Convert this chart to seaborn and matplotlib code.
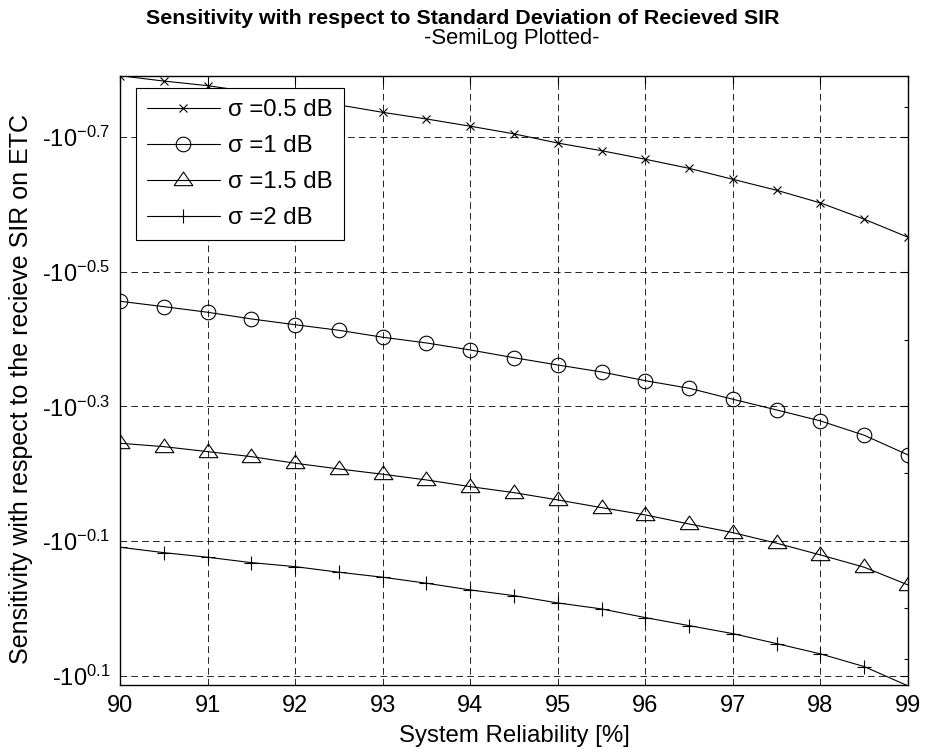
import numpy as np
import pandas as pd
import matplotlib
matplotlib.use("Agg")
import matplotlib.pyplot as plt
import seaborn as sns

# system reliability [%]
reliability = [90, 90.5, 91, 91.5, 92, 92.5, 93, 93.5, 94, 94.5,
               95, 95.5, 96, 96.5, 97, 97.5, 98, 98.5, 99]

# sensitivity (negative values)
sens_05 = [-0.1618, -0.1648, -0.1674, -0.1711, -0.1746, -0.1788, -0.1834, -0.1876, -0.1923, -0.1974,
           -0.2037, -0.2091, -0.2153, -0.2221, -0.2306, -0.2394, -0.2500, -0.2643, -0.2811]
sens_10 = [-0.3499, -0.3564, -0.3633, -0.3717, -0.3791, -0.3864, -0.3957, -0.4035, -0.4133, -0.4244,
           -0.4351, -0.4456, -0.4591, -0.4711, -0.4892, -0.5074, -0.5268, -0.5533, -0.5918]
sens_15 = [-0.5686, -0.5752, -0.5851, -0.5952, -0.6088, -0.6208, -0.6321, -0.6446, -0.6595, -0.6732,
           -0.6902, -0.7086, -0.7265, -0.7493, -0.7719, -0.8003, -0.8330, -0.8688, -0.9230]
sens_20 = [-0.8114, -0.8265, -0.8396, -0.8552, -0.8670, -0.8837, -0.8990, -0.9176, -0.9389, -0.9574,
           -0.9816, -1.0019, -1.0321, -1.0608, -1.0902, -1.1281, -1.1684, -1.2203, -1.3035]

labels = ["σ =0.5 dB", "σ =1 dB", "σ =1.5 dB", "σ =2 dB"]
ytick_exp = [-0.7, -0.5, -0.3, -0.1, 0.1]
ytick_labels = ["-10$^{\\mathrm{-0.7}}$", "-10$^{\\mathrm{-0.5}}$", "-10$^{\\mathrm{-0.3}}$",
                "-10$^{\\mathrm{-0.1}}$", "-10$^{\\mathrm{0.1}}$"]
yminor = [-0.18, -0.4, -0.63, -1.0, -1.19]


def setup_style():
    sns.set_theme(style="white")
    plt.rcParams.update({
        'font.family': ['Liberation Sans', 'DejaVu Sans'],
        'mathtext.fontset': 'custom',
        'mathtext.rm': 'Liberation Sans',
        'mathtext.it': 'Liberation Sans:italic',
        'mathtext.bf': 'Liberation Sans:bold',
        'axes.unicode_minus': False,
        'axes.edgecolor': 'black',
        'axes.linewidth': 1.0,
        'xtick.color': 'black',
        'ytick.color': 'black',
        'text.color': 'black',
        'axes.labelcolor': 'black',
    })


def fwd(y):
    y = np.asarray(y, dtype=float)
    with np.errstate(all='ignore'):
        return -np.log10(np.clip(-y, 1e-9, None))


def inv(z):
    z = np.asarray(z, dtype=float)
    return -np.power(10.0, -z)


def main():
    setup_style()
    fig = plt.figure(figsize=(9.26, 7.54), dpi=100)
    ax = fig.add_axes([0.1296, 0.0915, 0.8510, 0.8081])
    ax.set_yscale('function', functions=(fwd, inv))

    tri = [(-1, -0.55), (1, -0.55), (0, 0.9), (-1, -0.55)]
    series = [
        (sens_05, 'x', 5.5),
        (sens_10, 'o', 10.5),
        (sens_15, tri, 13.5),
        (sens_20, '+', 9.5),
    ]
    for (vals, mk, ms), lab in zip(series, labels):
        df = pd.DataFrame({'rel': reliability, 'val': vals})
        sns.lineplot(data=df, x='rel', y='val', ax=ax, color='black', linewidth=0.8,
                     marker=mk, markersize=ms, markerfacecolor='none',
                     markeredgecolor='black', markeredgewidth=0.8, label=lab)

    ax.set_xlim(90, 99)
    ax.set_ylim(-1.2996, -0.1618)
    ax.set_xticks(range(90, 100))
    ax.set_yticks([-10 ** e for e in ytick_exp])
    ax.set_yticklabels(ytick_labels)
    ax.set_yticks(yminor, minor=True)
    ax.yaxis.set_minor_formatter(matplotlib.ticker.NullFormatter())

    ax.grid(True, which='major', color='black', linewidth=0.6, linestyle=(0, (8, 5)))
    ax.tick_params(which='both', direction='in', top=True, right=True, labelsize=17, width=0.8)
    ax.tick_params(which='major', length=6, pad=7)
    ax.tick_params(which='minor', length=3)

    ax.set_xlabel('System Reliability [%]', fontsize=17.3, labelpad=6)
    ax.set_ylabel('Sensitivity with respect to the recieve SIR on ETC', fontsize=18, labelpad=6)
    ax.yaxis.set_label_coords(-0.11, 0.485)

    fig.text(0.5, 0.976, 'Sensitivity with respect to Standard Deviation of Recieved SIR',
             ha='center', va='center', fontsize=15.4, fontweight='bold')
    fig.text(0.553, 0.949, '-SemiLog Plotted-', ha='center', va='center', fontsize=15.8)

    leg = ax.legend(loc='upper left', bbox_to_anchor=(0.0199, 0.9793), borderaxespad=0,
                    fontsize=17.3, handlelength=3.05, handletextpad=0.35, labelspacing=0.58,
                    borderpad=0.45, fancybox=False, framealpha=1, edgecolor='black')
    leg.get_frame().set_linewidth(0.8)

    fig.savefig('out.png', dpi=100, facecolor='white')


if __name__ == "__main__":
    main()
